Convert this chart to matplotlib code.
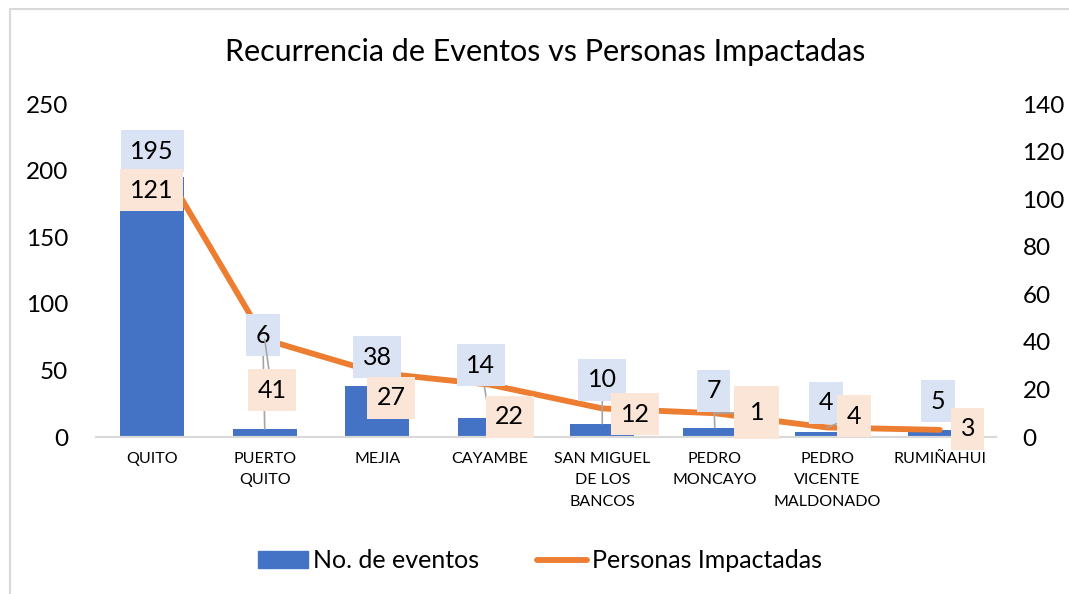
import matplotlib.pyplot as plt
from matplotlib.patches import Rectangle
from matplotlib.lines import Line2D
from matplotlib.transforms import ScaledTranslation

plt.rcParams['font.family'] = ['Lato', 'DejaVu Sans']

# data
cantones = ['QUITO', 'PUERTO\nQUITO', 'MEJIA', 'CAYAMBE', 'SAN MIGUEL\nDE LOS\nBANCOS',
            'PEDRO\nMONCAYO', 'PEDRO\nVICENTE\nMALDONADO', 'RUMIÑAHUI']
eventos = [195, 6, 38, 14, 10, 7, 4, 5]
personas = [121, 41, 27, 22, 12, 10, 4, 3]
personas_txt = ['121', '41', '27', '22', '12', '1', '4', '3']
left_ticks = [0, 50, 100, 150, 200, 250]
right_ticks = [0, 20, 40, 60, 80, 100, 120, 140]

# label placement (pixels, +y = down on screen)
ev_off = [(0, -26), (-2, -94), (0, -29), (-9, -53), (0, -44), (-1, -37), (-1, -29), (-2, -29)]
ev_leader = [True, True, False, True, True, True, False, False]
pe_off = [(-1, 41), (7, 51), (14, 25), (20, 32), (33, 6), (42, -1), (27, -11), (28, -1)]
pe_leader = [False, True, False, False, False, True, True, False]

blue = '#4472C4'
orange = '#ED7D31'

fig = plt.figure(figsize=(10.69, 5.94), dpi=100)
ax = fig.add_axes([96 / 1069, 157 / 594, 900 / 1069, 333 / 594])
ax2 = ax.twinx()

x = list(range(len(cantones)))
ax.bar(x, eventos, width=0.57, color=blue, zorder=2)
ax2.plot(x, personas, color=orange, lw=4.2, solid_capstyle='round', zorder=3)

ax.set_xlim(-0.5, len(cantones) - 0.5)
ax.set_ylim(0, 250)
ax2.set_ylim(0, 140)
ax.set_yticks(left_ticks)
ax2.set_yticks(right_ticks)
ax.set_xticks(x)
ax.set_xticklabels(cantones, fontsize=11.5, color='#000000', linespacing=1.65)
for lab in ax.get_xticklabels():
    lab.set_transform(lab.get_transform() + ScaledTranslation(-8 / 100, 0, fig.dpi_scale_trans))
ax.tick_params(axis='y', length=0, labelsize=17.5, pad=20)
ax2.tick_params(axis='y', length=0, labelsize=17.5, pad=19)
ax.tick_params(axis='x', length=0, pad=11)
for a in (ax, ax2):
    for s in ('top', 'left', 'right'):
        a.spines[s].set_visible(False)
    a.spines['bottom'].set_color('#D9D9D9')
    a.spines['bottom'].set_linewidth(1.5)

leader = dict(arrowstyle='-', color='#A6A6A6', lw=1.2, shrinkA=0, shrinkB=0)

# bar labels first so line labels sit on top of their leaders
for i, v in enumerate(eventos):
    dx, dy = ev_off[i]
    ax2.annotate(str(v), xy=(i, v), xycoords=ax.transData,
                 xytext=(dx, -dy), textcoords='offset pixels',
                 ha='center', va='center', fontsize=18, color='#000000',
                 bbox=dict(boxstyle='square,pad=0.38', fc='#DAE3F3', ec='none'),
                 arrowprops=leader if ev_leader[i] else None, zorder=5)

for i, v in enumerate(personas):
    dx, dy = pe_off[i]
    pad = 0.6 if personas_txt[i] == '1' else 0.38
    ax2.annotate(personas_txt[i], xy=(i, v), xycoords=ax2.transData,
                 xytext=(dx, -dy), textcoords='offset pixels',
                 ha='center', va='center', fontsize=18, color='#000000',
                 bbox=dict(boxstyle='square,pad=%s' % pad, fc='#FBE5D6', ec='none'),
                 arrowprops=leader if pe_leader[i] else None, zorder=6)

fig.text(545 / 1069, 1 - 52 / 594, 'Recurrencia de Eventos vs Personas Impactadas',
         ha='center', va='center', fontsize=22, color='#000000')

handles = [Rectangle((0, 0), 1, 1, color=blue),
           Line2D([0], [0], color=orange, lw=4.2, solid_capstyle='round')]
fig.legend(handles, ['No. de eventos', 'Personas Impactadas'], loc='center',
           bbox_to_anchor=(540 / 1069, 1 - 561 / 594), ncol=2, frameon=False,
           fontsize=18, handlelength=2.0, handleheight=0.65, handletextpad=0.2,
           columnspacing=2.3)

# chart frame (only top and left edges fall inside the crop)
fig.patches.append(Rectangle((10 / 1069, -0.1), 1.2, 1 - 9 / 594 + 0.1,
                             transform=fig.transFigure, fill=False,
                             ec='#D9D9D9', lw=1.5))

fig.savefig('out.png', dpi=100)
